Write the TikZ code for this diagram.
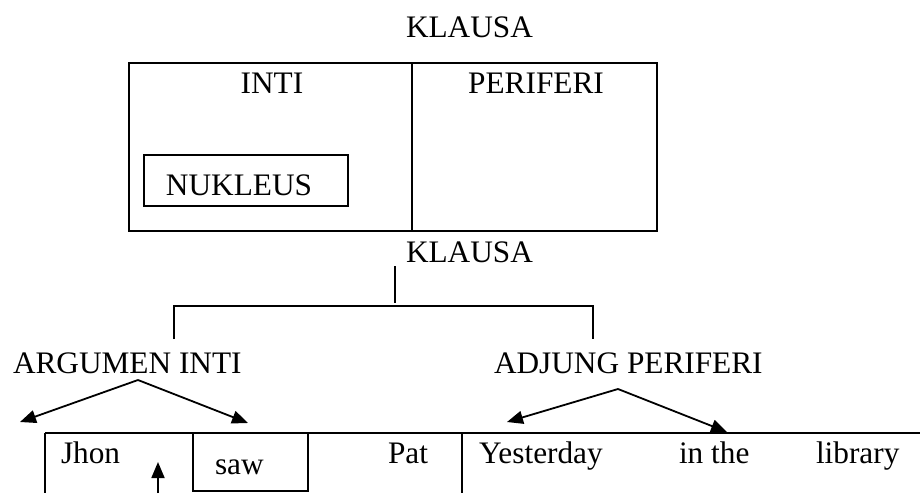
\documentclass[tikz,border=0pt]{standalone}
\usepackage{fontspec}
\setmainfont{Liberation Serif}
\usetikzlibrary{arrows.meta}
\begin{document}
\begin{tikzpicture}[x=1pt,y=-1pt,line width=2pt,
  lbl/.style={inner sep=0pt,anchor=base west,font=\fontsize{31.3}{36}\selectfont},
  clbl/.style={lbl,anchor=base},
  arr/.style={-{Triangle[length=16pt,width=13pt]},line width=1.8pt},
  frame/.style={draw,line width=2pt,inner sep=0pt}]
\useasboundingbox (0,0) rectangle (920,493);

% top diagram
\node[lbl] (title1) at (405,37) {KLAUSA};
\coordinate (boxNW) at (129,63);
\coordinate (boxSE) at (657,231);
\draw (boxNW) rectangle (boxSE);
\coordinate (divT) at (412,63);
\coordinate (divB) at (412,231);
\draw (divT) -- (divB);
\node[clbl] (inti) at (272,93) {INTI};
\node[clbl] (perif) at (536,93) {PERIFERI};
\coordinate (nukNW) at (144,155);
\coordinate (nukSE) at (348,206);
\draw (nukNW) rectangle (nukSE);
\node[clbl] (nuk) at (239,195) {NUKLEUS};

% tree
\node[lbl] (title2) at (405,262) {KLAUSA};
\coordinate (stemT) at (395,266);
\coordinate (stemB) at (395,303);
\draw (stemT) -- (stemB);
\coordinate (brL) at (174,339);
\coordinate (brR) at (593,339);
\draw (brL) |- (395,306) -| (brR);
\node[lbl] (arg) at (12,373) {ARGUMEN INTI};
\node[lbl] (adj) at (493,373) {ADJUNG PERIFERI};

% arrows
\coordinate (apA) at (138,380);
\coordinate (tA1) at (20,422);
\coordinate (tA2) at (248,423);
\draw[arr] (apA) -- (tA1);
\draw[arr] (apA) -- (tA2);
\coordinate (apB) at (618,389);
\coordinate (tB1) at (507,422);
\coordinate (tB2) at (727,432);
\draw[arr] (apB) -- (tB1);
\draw[arr] (apB) -- (tB2);

% bottom table
\coordinate (tblL) at (45,433);
\coordinate (tblR) at (920,433);
\draw (tblL) -- (tblR);
\draw (tblL) -- (45,493);
\coordinate (midT) at (462,433);
\draw (midT) -- (462,493);
\coordinate (sawNW) at (193,433);
\coordinate (sawSE) at (308,491);
\draw (sawNW) rectangle (sawSE);
\node[lbl] (jhon) at (60,463) {Jhon};
\node[lbl] (saw) at (214,474) {saw};
\node[lbl] (pat) at (387,463) {Pat};
\node[lbl] (yest) at (478,463) {Yesterday};
\node[lbl] (inthe) at (678,463) {in the};
\node[lbl] (lib) at (815,463) {library};
\coordinate (upB) at (158,493);
\coordinate (upT) at (158,462);
\draw[arr] (upB) -- (upT);
\end{tikzpicture}
\end{document}
